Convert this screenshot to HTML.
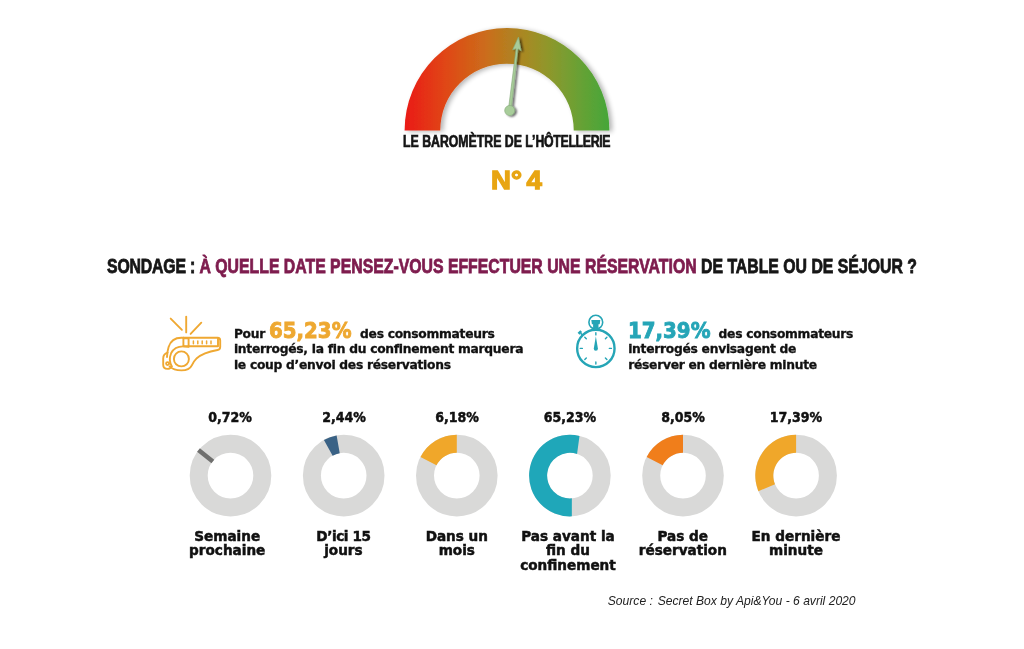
<!DOCTYPE html>
<html lang="fr"><head><meta charset="utf-8"><title>Le baromètre de l’hôtellerie N° 4</title>
<style>
html,body{margin:0;padding:0;background:#fff;}
body{width:1024px;height:649px;position:relative;overflow:hidden;font-family:"DejaVu Sans","Liberation Sans",sans-serif;color:#111;}
svg.g{position:absolute;left:0;top:0;}
.t{position:absolute;white-space:nowrap;line-height:1;}
.cond{font-family:"Liberation Sans",sans-serif;font-weight:bold;transform-origin:0 0;}
#title{left:403.0px;top:133.9px;font-size:16px;color:#141414;-webkit-text-stroke:0.7px #141414;transform:scaleX(0.7685);}
#num{left:490.8px;top:167.0px;font-size:26.3px;color:#e8a512;-webkit-text-stroke:1.3px #e8a512;transform:scaleX(1.05);word-spacing:-3px;}
#head{left:106.8px;top:255.7px;font-size:20.1px;color:#161616;-webkit-text-stroke:0.8px;transform:scaleX(0.7872);}
#head b{color:#7e1c4e;-webkit-text-stroke-color:#7e1c4e;font-weight:bold;}
.body{-webkit-text-stroke:0.32px;font-weight:bold;font-size:12.3px;letter-spacing:-0.28px;line-height:15.5px;color:#111;white-space:nowrap;position:absolute;}
.big{display:inline-block;font-size:22px;letter-spacing:0;line-height:0;-webkit-text-stroke:0.9px;transform:scaleX(0.9);transform-origin:0 50%;margin-right:-4.66px;}
#s1{left:233.9px;top:326.5px;}
#s1 .big{color:#eea830;}
#s2{left:628.2px;top:326.5px;}
#s2 .big{color:#25a5b7;margin-right:-5.26px;}
.pct{-webkit-text-stroke:0.5px;position:absolute;top:408.6px;width:100px;margin-left:-50px;text-align:center;font-weight:bold;font-size:14px;line-height:16px;color:#111;transform:scaleX(0.9);}
.lab{-webkit-text-stroke:0.5px;position:absolute;top:528.7px;width:120px;margin-left:-60px;text-align:center;font-weight:bold;font-size:13.6px;line-height:14.8px;color:#111;}
#src{left:607.8px;top:595.1px;font-family:"Liberation Sans",sans-serif;font-style:italic;font-size:12.1px;color:#222;}
</style></head>
<body>
<svg class="g" width="1024" height="649" viewBox="0 0 1024 649">
<defs>
<linearGradient id="gg" x1="404.6" y1="0" x2="609.4" y2="0" gradientUnits="userSpaceOnUse">
<stop offset="0" stop-color="#ea1a13"/>
<stop offset="0.2" stop-color="#e04715"/>
<stop offset="0.4" stop-color="#cb6d1b"/>
<stop offset="0.5" stop-color="#b67d20"/>
<stop offset="0.6" stop-color="#a58b24"/>
<stop offset="0.7" stop-color="#8f972b"/>
<stop offset="0.8" stop-color="#769e32"/>
<stop offset="0.9" stop-color="#5da336"/>
<stop offset="1" stop-color="#45a639"/>
</linearGradient>
<filter id="sh" x="-10%" y="-10%" width="125%" height="125%"><feGaussianBlur in="SourceAlpha" stdDeviation="2.6"/><feOffset dx="3" dy="1.2"/><feComponentTransfer><feFuncA type="linear" slope="0.3"/></feComponentTransfer><feMerge><feMergeNode/><feMergeNode in="SourceGraphic"/></feMerge></filter>
<filter id="sh2" x="-50%" y="-20%" width="250%" height="150%"><feGaussianBlur in="SourceAlpha" stdDeviation="0.9"/><feOffset dx="1.5" dy="0.9"/><feComponentTransfer><feFuncA type="linear" slope="0.6"/></feComponentTransfer><feMerge><feMergeNode/><feMergeNode in="SourceGraphic"/></feMerge></filter>
</defs>
<path d="M404.6 130.4A102.4 102.4 0 0 1 609.4 130.4L573.75 130.4A66.75 66.75 0 0 0 440.25 130.4Z" fill="url(#gg)" filter="url(#sh)"/>
<g filter="url(#sh2)" fill="#a8cd9a" stroke="#86ab7b" stroke-width="0.6">
<g transform="translate(509.7 110.5) rotate(6.8)">
<path d="M-1.4 0L-0.95 -62.2L-4.3 -60.6L0 -74L4.3 -60.6L0.95 -62.2L1.4 0Z"/>
<circle cx="0" cy="0" r="5"/>
</g>
</g>
<circle cx="230.5" cy="475.6" r="31.799999999999997" fill="none" stroke="#d9d9d8" stroke-width="17.999999999999996"/>
<circle cx="343.7" cy="475.6" r="31.799999999999997" fill="none" stroke="#d9d9d8" stroke-width="17.999999999999996"/>
<circle cx="456.8" cy="475.6" r="31.799999999999997" fill="none" stroke="#d9d9d8" stroke-width="17.999999999999996"/>
<circle cx="569.9" cy="475.6" r="31.799999999999997" fill="none" stroke="#d9d9d8" stroke-width="17.999999999999996"/>
<circle cx="683.0" cy="475.6" r="31.799999999999997" fill="none" stroke="#d9d9d8" stroke-width="17.999999999999996"/>
<circle cx="796.1" cy="475.6" r="31.799999999999997" fill="none" stroke="#d9d9d8" stroke-width="17.999999999999996"/>
<path d="M212.86 461.47L198.50 449.97" stroke="#6f6f6e" stroke-width="4.5" fill="none"/>
<path d="M323.92 439.92A40.8 40.8 0 0 1 336.62 435.42L339.74 453.15A22.8 22.8 0 0 0 332.65 455.66Z" fill="#3a6285"/>
<path d="M420.45 457.08A40.8 40.8 0 0 1 456.80 434.80L456.80 452.80A22.8 22.8 0 0 0 436.49 465.25Z" fill="#f0a72a"/>
<path d="M571.82 516.35A40.8 40.8 0 1 1 579.49 435.94L577.06 453.95A22.8 22.8 0 1 0 571.85 498.32Z" fill="#1fa7b9"/>
<path d="M646.65 457.08A40.8 40.8 0 0 1 683.00 434.80L683.00 452.80A22.8 22.8 0 0 0 662.69 465.25Z" fill="#f07e1b"/>
<path d="M758.38 491.15A40.8 40.8 0 0 1 796.10 434.80L796.10 452.80A22.8 22.8 0 0 0 775.02 484.29Z" fill="#f0a72a"/>
<!-- whistle -->
<g fill="none" stroke="#efa832" stroke-width="1.9" stroke-linecap="round" stroke-linejoin="round">
<path d="M170.7 318.6L181.9 329.8M186.2 316.6V332.4M201.3 322.7L190.6 333.9"/>
<path d="M183.3 337.8H217.6Q220.2 337.8 220.2 340.4V347Q220.2 349.6 217.5 350Q203 352.8 196.8 358.2Q193.8 361.2 191.8 365.4Q189.4 370.4 181.5 370.4Q173.5 370.4 169.6 366.4"/>
<path d="M183.3 337.8Q171.8 336.8 168.6 347Q167 352.5 167 357"/>
<rect x="183.4" y="338.4" width="5.2" height="7.9"/>
<path d="M218 338.4V346.2H188.6"/>
<path d="M193.4 341V343.8M197.8 341V343.8M202.2 341V343.8M206.6 341V343.8M211 341V343.8" stroke-width="1.5"/>
<circle cx="181.4" cy="358.9" r="7.5"/>
<path d="M188.6 346.9Q175.6 344.4 171.2 353Q168.2 360.2 171.8 366.4"/>
<path d="M167.6 352.6Q163.2 353.8 163.2 358.5V364.8Q163.2 368.9 167.4 368.9Q170.6 368.9 171.6 366.4"/>
<circle cx="167.6" cy="363.6" r="1.5"/>
</g>
<!-- stopwatch -->
<g fill="none" stroke="#25a5b6" stroke-linecap="round">
<circle cx="595.85" cy="348.4" r="18.7" stroke-width="2.4"/>
<circle cx="595.8" cy="322.2" r="6.9" stroke-width="1.6"/>
<path d="M591.3 320.1H600.3L599.7 324.3H598.5V328.8H593.1V324.3H591.9Z" fill="#25a5b6" stroke="none"/>
<g transform="translate(595.85 348.4) rotate(-45)"><path d="M0 -19.5V-21.5" stroke-width="1.6" stroke-linecap="butt"/><path d="M-1.9 -22.6H1.9" stroke-width="2.6" stroke-linecap="butt"/></g>
<path d="M595.85 332.8V334.9M595.85 361.9V364M580.25 348.4H582.35M609.35 348.4H611.45M584.8 337.3L586.3 338.8M606.9 337.3L605.4 338.8M584.8 359.5L586.3 358M606.9 359.5L605.4 358" stroke-width="1.4"/>
<path d="M595.85 336.3L597.9 348.4Q598 350.8 595.85 350.8Q593.7 350.8 593.8 348.4Z" fill="#25a5b6" stroke="none"/>
</g>
</svg>
<div class="t cond" id="title">LE BAROMÈTRE DE L’<span style="letter-spacing:-0.42px">HÔTELLERIE</span></div>
<div class="t cond" id="num">N° 4</div>
<div class="t cond" id="head"><span style="letter-spacing:-0.2px">SONDAGE : </span><b>À QUELLE DATE PENSEZ-VOUS EFFECTUER UNE RÉSERVATION</b> DE TABLE OU DE SÉJOUR ?</div>
<div class="body" id="s1">Pour <span class="big">65,23%</span> des consommateurs<br>interrogés, la fin du confinement marquera<br>le coup d’envoi des réservations</div>
<div class="body" id="s2"><span class="big">17,39%</span> des consommateurs<br>interrogés envisagent de<br>réserver en dernière minute</div>
<div class="pct" style="left:230.3px">0,72%</div>
<div class="pct" style="left:343.5px">2,44%</div>
<div class="pct" style="left:457px">6,18%</div>
<div class="pct" style="left:570px">65,23%</div>
<div class="pct" style="left:682.8px">8,05%</div>
<div class="pct" style="left:796.4px">17,39%</div>
<div class="lab" style="left:227.2px">Semaine<br>prochaine</div>
<div class="lab" style="left:343.4px"><span style="letter-spacing:-0.4px">D’ici 15</span><br>jours</div>
<div class="lab" style="left:456.8px">Dans un<br>mois</div>
<div class="lab" style="left:568px">Pas avant la<br>fin du<br>confinement</div>
<div class="lab" style="left:682.8px">Pas de<br>réservation</div>
<div class="lab" style="left:796px">En dernière<br>minute</div>
<div class="t" id="src">Source : <span style="margin-left:1.5px"></span>Secret Box by Api&amp;You - 6 avril 2020</div>
</body></html>
